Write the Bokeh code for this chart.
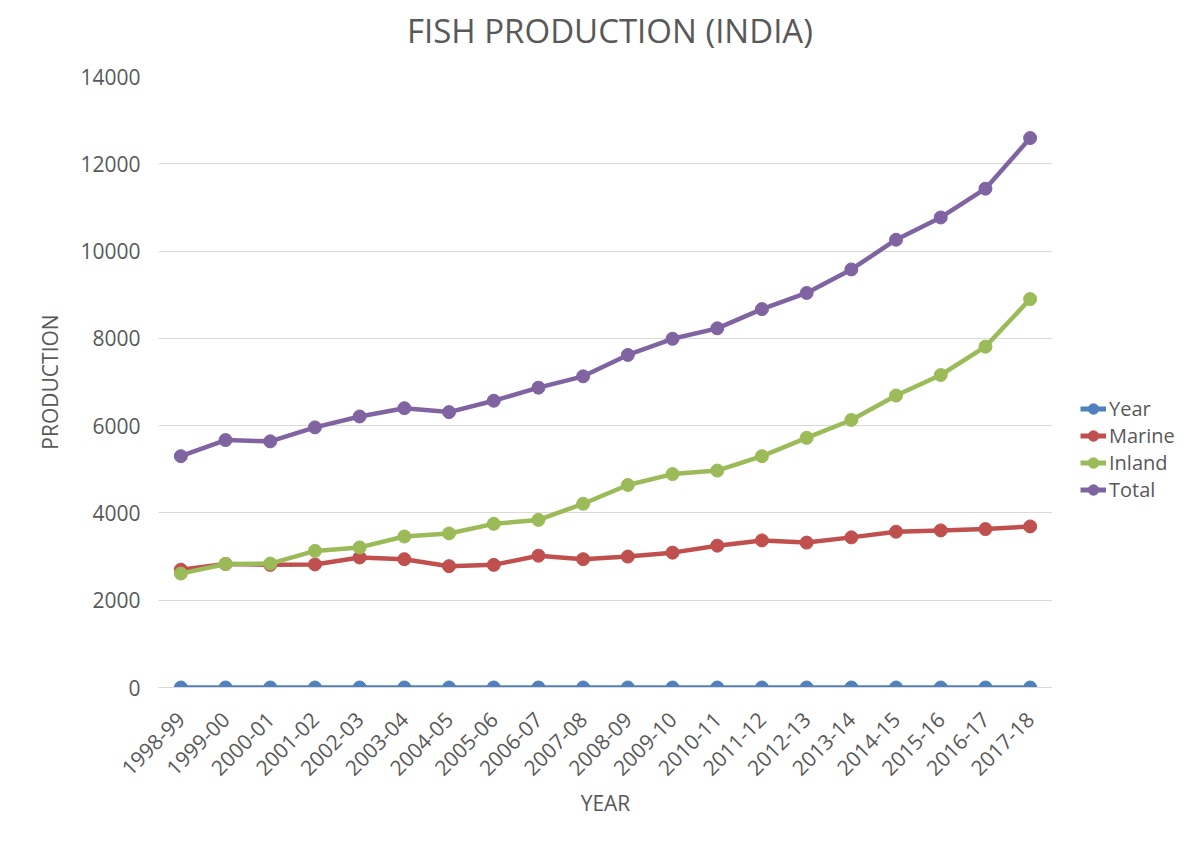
from math import pi
import numpy as np
from bokeh.plotting import figure
from bokeh.layouts import row, column
from bokeh.models import FactorRange, Range1d, Legend, LegendItem, SingleIntervalTicker, Div
from bokeh.embed import file_html
from bokeh.resources import INLINE

years = ["1998-99", "1999-00", "2000-01", "2001-02", "2002-03", "2003-04", "2004-05",
         "2005-06", "2006-07", "2007-08", "2008-09", "2009-10", "2010-11", "2011-12",
         "2012-13", "2013-14", "2014-15", "2015-16", "2016-17", "2017-18"]
year_series = [0] * 20
marine = [2700, 2830, 2810, 2820, 2980, 2940, 2780, 2810, 3020, 2940,
          3000, 3090, 3250, 3370, 3320, 3440, 3570, 3600, 3630, 3690]
inland = [2610, 2830, 2840, 3130, 3210, 3460, 3530, 3750, 3840, 4210,
          4640, 4890, 4970, 5300, 5720, 6130, 6690, 7160, 7810, 8900]
total = [5300, 5670, 5640, 5960, 6210, 6400, 6310, 6570, 6870, 7130,
         7620, 7990, 8230, 8670, 9040, 9580, 10260, 10770, 11430, 12590]

FONT = "Open Sans"
GREY = "#595959"

title = Div(text="FISH PRODUCTION (INDIA)", width=1188, height=62, margin=(0, 0, 0, 16),
            styles={"font-family": FONT, "font-size": "33px", "color": GREY,
                    "text-align": "center", "line-height": "62px"})

p = figure(width=1052, height=779, output_backend="svg", toolbar_location=None,
           x_range=FactorRange(*years, range_padding=0), y_range=Range1d(0, 14000),
           min_border_left=158, min_border_right=0, min_border_top=14, min_border_bottom=154)

p.outline_line_color = None
p.background_fill_color = "white"
p.border_fill_color = "white"

series = [("Year", year_series, "#4F81BD"), ("Marine", marine, "#C0504D"),
          ("Inland", inland, "#9BBB59"), ("Total", total, "#8064A2")]

# legend panel as a separate small figure to the right
lg = figure(width=152, height=779, output_backend="svg", toolbar_location=None,
            x_axis_type=None, y_axis_type=None, min_border=0,
            x_range=Range1d(0, 1), y_range=Range1d(0, 1))
lg.outline_line_color = None
lg.grid.visible = False
lg.border_fill_color = "white"
lg.background_fill_color = "white"

empty = np.array([np.nan])
items = []
for name, vals, col in series:
    p.line(years, vals, line_color=col, line_width=4.5)
    p.scatter(years, vals, size=13, fill_color=col, line_color=col)
    ll = lg.line(empty, empty, line_color=col, line_width=5)
    ls = lg.scatter(empty, empty, size=13, fill_color=col, line_color=col)
    items.append(LegendItem(label=name, renderers=[ll, ls]))

legend = Legend(items=items, location=(28, 184), label_text_font=FONT,
                label_text_font_size="20px", label_text_color=GREY, border_line_color=None,
                background_fill_alpha=0, spacing=0, glyph_width=26, glyph_height=27,
                label_standoff=3, padding=0, margin=0)
lg.add_layout(legend, "center")

p.yaxis.ticker = SingleIntervalTicker(interval=2000)
p.ygrid.grid_line_color = "#d9d9d9"
p.ygrid.grid_line_width = 1
p.xgrid.grid_line_color = None

for ax in (p.xaxis[0], p.yaxis[0]):
    ax.major_label_text_font = FONT
    ax.major_label_text_font_size = "21px"
    ax.major_label_text_color = GREY
    ax.axis_label_text_font = FONT
    ax.axis_label_text_font_size = "21px"
    ax.axis_label_text_font_style = "normal"
    ax.axis_label_text_color = GREY
    ax.major_tick_line_color = None
    ax.minor_tick_line_color = None

p.yaxis.axis_line_color = None
p.yaxis.major_label_standoff = 12
p.yaxis.axis_label = "PRODUCTION"
p.yaxis.axis_label_standoff = 13

p.xaxis.axis_line_color = "#d9d9d9"
p.xaxis.major_label_orientation = pi / 4
p.xaxis.major_label_standoff = 22
p.xaxis.axis_label = "YEAR"
p.xaxis.axis_label_standoff = 3

layout = column(title, row(p, lg, spacing=0), spacing=0)
open("out.html", "w").write(file_html(layout, INLINE))
